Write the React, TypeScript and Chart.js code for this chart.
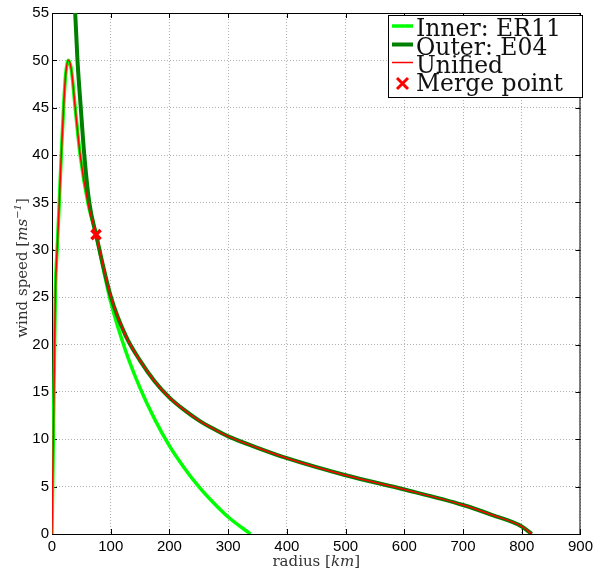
import React, { useEffect, useRef } from "react";
import { Chart, registerables } from "chart.js";

Chart.register(...registerables);

// ---- data ----
const innerRadius = [0, 2, 4, 5.6, 9.5, 12.4, 15.8, 19.7, 23, 28, 33, 39.5, 48, 61, 75, 100, 125, 150, 175, 200, 225, 250, 275, 300, 338];
const innerSpeed = [0, 9, 18, 25, 31, 35, 40, 45, 48.3, 50, 49, 45, 40, 35, 31.6, 24.5, 19.4, 15.4, 12.1, 9.3, 7.0, 5.0, 3.3, 1.8, 0];

const outerRadius = [37.5, 39.5, 43.4, 49, 55, 63.5, 75, 100, 125, 150, 175, 200, 225, 250, 275, 300, 350, 400, 500, 600, 700, 750, 800, 817];
const outerSpeed = [58, 55, 50, 45, 40, 35, 31.6, 25.1, 21.0, 18.3, 16.1, 14.4, 13.1, 12.0, 11.1, 10.3, 9.1, 8.0, 6.2, 4.7, 3.06, 2.0, 0.8, 0];

const mergeRadius = 75;
const mergeSpeed = 31.6;

const xTickValues = [0, 100, 200, 300, 400, 500, 600, 700, 800, 900];
const yTickValues = [0, 5, 10, 15, 20, 25, 30, 35, 40, 45, 50, 55];

const legendLabels = ["Inner: ER11", "Outer: E04", "Unified", "Merge point"];

const INNER_COLOR = "#00ff00";
const OUTER_COLOR = "#008000";
const UNIFIED_COLOR = "#ff0000";

const SERIF = '"DejaVu Serif", "Liberation Serif", serif';
const SANS = '"Liberation Sans", Arial, sans-serif';

function toPoints(xs: number[], ys: number[]) {
  return xs.map((x, i) => ({ x, y: ys[i] }));
}

function unifiedPoints() {
  const a = toPoints(innerRadius, innerSpeed).filter((p) => p.x < mergeRadius);
  const b = toPoints(outerRadius, outerSpeed).filter((p) => p.x > mergeRadius);
  return [...a, { x: mergeRadius, y: mergeSpeed }, ...b];
}

type Part = { t: string; font: string; dy?: number };

function drawRich(ctx: CanvasRenderingContext2D, parts: Part[], x: number, y: number) {
  let total = 0;
  for (const p of parts) {
    ctx.font = p.font;
    total += ctx.measureText(p.t).width;
  }
  let cx = x - total / 2;
  ctx.textAlign = "left";
  ctx.textBaseline = "alphabetic";
  for (const p of parts) {
    ctx.font = p.font;
    ctx.fillText(p.t, cx, y + (p.dy || 0));
    cx += ctx.measureText(p.t).width;
  }
}

const framePlugin = {
  id: "matlabFrame",
  beforeDatasetsDraw(chart: any) {
    const { ctx, chartArea: a, scales } = chart;
    ctx.save();
    ctx.strokeStyle = "#000";
    ctx.lineWidth = 1;
    ctx.setLineDash([]);
    ctx.strokeRect(a.left + 0.5, a.top + 0.5, a.right - a.left - 1, a.bottom - a.top);
    const tl = 5;
    ctx.beginPath();
    for (const v of xTickValues) {
      const px = Math.round(scales.x.getPixelForValue(v)) + 0.5;
      ctx.moveTo(px, a.bottom);
      ctx.lineTo(px, a.bottom - tl);
      ctx.moveTo(px, a.top);
      ctx.lineTo(px, a.top + tl);
    }
    for (const v of yTickValues) {
      const py = Math.round(scales.y.getPixelForValue(v)) + 0.5;
      ctx.moveTo(a.left, py);
      ctx.lineTo(a.left + tl, py);
      ctx.moveTo(a.right, py);
      ctx.lineTo(a.right - tl, py);
    }
    ctx.stroke();
    ctx.restore();
  },
  afterDraw(chart: any) {
    const { ctx, chartArea: a } = chart;
    ctx.save();
    ctx.fillStyle = "#333";
    // x title
    const cx = (a.left + a.right) / 2;
    drawRich(
      ctx,
      [
        { t: "radius [", font: `15px ${SERIF}` },
        { t: "km", font: `italic 15px ${SERIF}` },
        { t: "]", font: `15px ${SERIF}` },
      ],
      cx,
      566
    );
    // y title
    ctx.save();
    ctx.translate(27, 268);
    ctx.rotate(-Math.PI / 2);
    drawRich(
      ctx,
      [
        { t: "wind speed [", font: `15px ${SERIF}` },
        { t: "ms", font: `italic 15px ${SERIF}` },
        { t: "\u22121", font: `italic 10px ${SERIF}`, dy: -6 },
        { t: "]", font: `15px ${SERIF}` },
      ],
      0,
      0
    );
    ctx.restore();

    // legend
    const bx = 388.5, by = 15.5, bw = 194, bh = 82;
    ctx.fillStyle = "#fff";
    ctx.fillRect(bx, by, bw, bh);
    ctx.strokeStyle = "#000";
    ctx.lineWidth = 1;
    ctx.strokeRect(bx, by, bw, bh);
    const baselines = [36, 54.5, 72.5, 90.5];
    const lx0 = 392, lx1 = 413, tx = 416;
    const styles = [
      { c: INNER_COLOR, w: 3.5 },
      { c: OUTER_COLOR, w: 4 },
      { c: UNIFIED_COLOR, w: 1.5 },
    ];
    for (let i = 0; i < 3; i++) {
      const ly = baselines[i] - 10;
      ctx.strokeStyle = styles[i].c;
      ctx.lineWidth = styles[i].w;
      ctx.beginPath();
      ctx.moveTo(lx0, ly);
      ctx.lineTo(lx1, ly);
      ctx.stroke();
    }
    // merge marker
    const mx = 402.5, my = baselines[3] - 7, r = 5.5;
    ctx.strokeStyle = UNIFIED_COLOR;
    ctx.lineWidth = 3;
    ctx.beginPath();
    ctx.moveTo(mx - r, my - r);
    ctx.lineTo(mx + r, my + r);
    ctx.moveTo(mx - r, my + r);
    ctx.lineTo(mx + r, my - r);
    ctx.stroke();

    ctx.fillStyle = "#111";
    ctx.font = `23.5px ${SERIF}`;
    ctx.textAlign = "left";
    ctx.textBaseline = "alphabetic";
    legendLabels.forEach((lab, i) => ctx.fillText(lab, tx, baselines[i]));
    ctx.restore();
  },
};

export default function App() {
  const ref = useRef<HTMLCanvasElement | null>(null);

  useEffect(() => {
    if (!ref.current) return;
    const chart = new Chart(ref.current, {
      type: "scatter",
      data: {
        datasets: [
          {
            label: legendLabels[0],
            data: toPoints(innerRadius, innerSpeed),
            showLine: true,
            borderColor: INNER_COLOR,
            backgroundColor: INNER_COLOR,
            borderWidth: 3.5,
            pointRadius: 0,
            cubicInterpolationMode: "monotone",
            clip: 0,
            order: 3,
          },
          {
            label: legendLabels[1],
            data: toPoints(outerRadius, outerSpeed),
            showLine: true,
            borderColor: OUTER_COLOR,
            backgroundColor: OUTER_COLOR,
            borderWidth: 4,
            pointRadius: 0,
            cubicInterpolationMode: "monotone",
            clip: 0,
            order: 2,
          },
          {
            label: legendLabels[2],
            data: unifiedPoints(),
            showLine: true,
            borderColor: UNIFIED_COLOR,
            backgroundColor: UNIFIED_COLOR,
            borderWidth: 1.5,
            pointRadius: 0,
            cubicInterpolationMode: "monotone",
            clip: 0,
            order: 1,
          },
          {
            label: legendLabels[3],
            data: [{ x: mergeRadius, y: mergeSpeed }],
            showLine: false,
            pointStyle: "crossRot",
            pointRadius: 6.5,
            pointBorderWidth: 3.5,
            borderColor: UNIFIED_COLOR,
            backgroundColor: UNIFIED_COLOR,
            order: 0,
          },
        ] as any,
      },
      options: {
        responsive: false,
        animation: false,
        devicePixelRatio: 1,
        events: [],
        layout: { padding: { left: 0, right: 14, top: 13, bottom: 0 } },
        plugins: { legend: { display: false }, tooltip: { enabled: false } },
        scales: {
          x: {
            type: "linear",
            min: 0,
            max: 900,
            afterBuildTicks: (s: any) => {
              s.ticks = xTickValues.map((v) => ({ value: v }));
            },
            afterFit: (s: any) => {
              s.height = 37;
            },
            ticks: {
              font: { family: SANS, size: 15 },
              color: "#000",
              padding: 4,
              maxRotation: 0,
              autoSkip: false,
            },
            grid: { color: "#b0b0b0", lineWidth: 1, drawTicks: false },
            border: { display: true, color: "#000", width: 1, dash: [1, 2] },
          },
          y: {
            type: "linear",
            min: 0,
            max: 55,
            afterBuildTicks: (s: any) => {
              s.ticks = yTickValues.map((v) => ({ value: v }));
            },
            afterFit: (s: any) => {
              s.width = 52;
            },
            ticks: {
              font: { family: SANS, size: 15 },
              color: "#000",
              padding: 3,
              autoSkip: false,
            },
            grid: { color: "#b0b0b0", lineWidth: 1, drawTicks: false },
            border: { display: true, color: "#000", width: 1, dash: [1, 2] },
          },
        },
      } as any,
      plugins: [framePlugin],
    });
    return () => chart.destroy();
  }, []);

  return (
    <div style={{ position: "absolute", left: 0, top: 0, width: 597, height: 571, background: "#fff" }}>
      <canvas ref={ref} width={597} height={571} style={{ display: "block" }} />
    </div>
  );
}
